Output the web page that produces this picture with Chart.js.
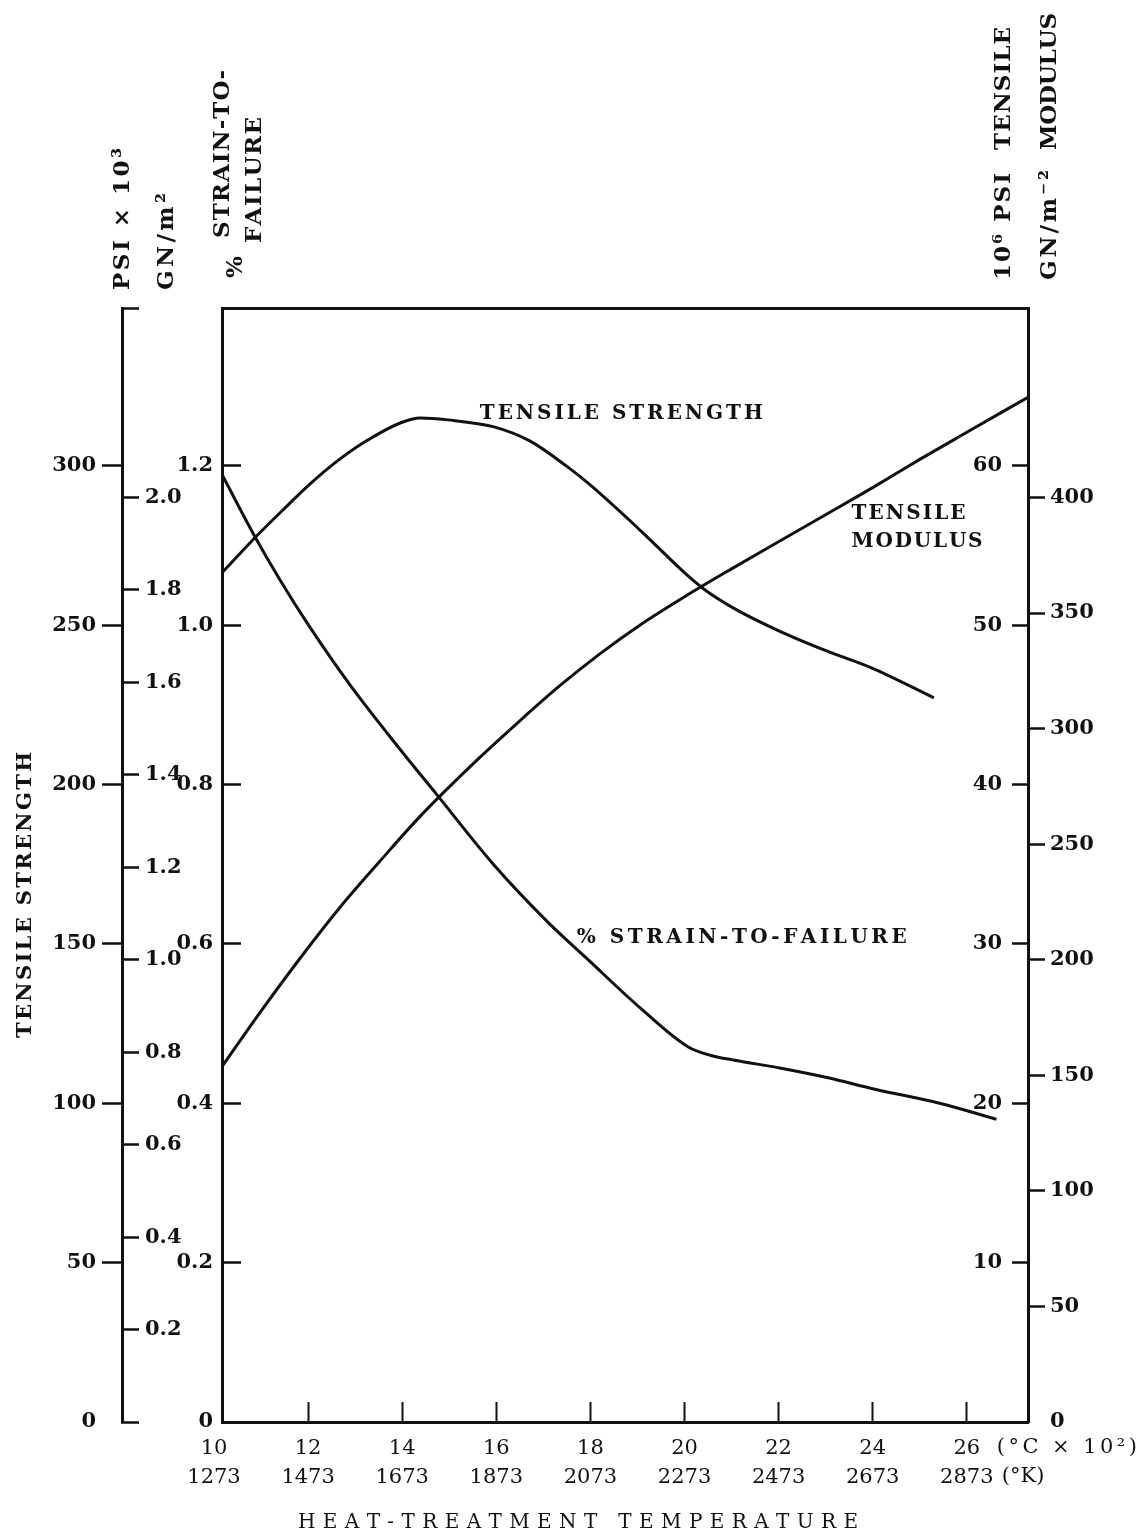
<!DOCTYPE html>
<html>
<head>
<meta charset="utf-8">
<title>Tensile properties vs heat-treatment temperature</title>
<script src="https://cdn.jsdelivr.net/npm/chart.js"></script>
<style>
    html, body { margin: 0; padding: 0; background: #fff; }
    canvas { display: block; }
</style>
</head>
<body>
<canvas id="myChart" width="1147" height="1538"></canvas>
<script>
// heat-treatment temperature: deg C x 10^2 and the matching deg K
const tempC = [10, 12, 14, 16, 18, 20, 22, 24, 26];
const tempK = [1273, 1473, 1673, 1873, 2073, 2273, 2473, 2673, 2873];

// tensile strength, PSI x 10^3
const strengthTemp = [10.17, 10.87, 11.47, 12.02, 12.57, 13.14, 13.97, 14.38, 14.97, 15.95, 16.71, 17.5, 17.97, 19.07, 20.07, 20.43, 21.07, 22.05, 23.02, 24.02, 25.3];
const strengthPsi = [266.4, 277.4, 286.2, 294.0, 300.9, 306.9, 313.5, 315.0, 314.4, 312.2, 307.8, 299.8, 294.3, 279.6, 265.5, 261.1, 255.1, 247.9, 241.9, 236.3, 227.2];

// % strain-to-failure
const strainTemp = [10.17, 10.87, 11.4, 12.02, 12.89, 13.97, 14.74, 15.95, 17.1, 17.99, 19.07, 20.07, 20.56, 21.07, 22.05, 23.05, 24.02, 25.42, 26.63];
const strainPct = [1.189, 1.111, 1.057, 0.999, 0.925, 0.843, 0.787, 0.699, 0.627, 0.578, 0.519, 0.471, 0.460, 0.454, 0.444, 0.432, 0.418, 0.400, 0.380];

// tensile modulus, 10^6 PSI
const modulusTemp = [10.17, 10.98, 11.83, 12.68, 13.53, 14.38, 15.65, 16.5, 17.35, 18.2, 19.05, 20.01, 20.98, 21.98, 22.98, 23.98, 25.0, 26.0, 27.3];
const modulusMsi = [22.3, 25.7, 29.1, 32.3, 35.2, 38.0, 41.7, 44.0, 46.2, 48.2, 50.0, 51.8, 53.5, 55.2, 56.9, 58.6, 60.4, 62.1, 64.3];

// tick labels of the five vertical scales
const psiTicks = [0, 50, 100, 150, 200, 250, 300];
const gnTicks = [0.2, 0.4, 0.6, 0.8, 1.0, 1.2, 1.4, 1.6, 1.8, 2.0];
const strainTicks = [0, 0.2, 0.4, 0.6, 0.8, 1.0, 1.2];
const msiTicks = [10, 20, 30, 40, 50, 60];
const gpaTicks = [0, 50, 100, 150, 200, 250, 300, 350, 400];

// extent of the frame and the unit conversions tying the scales together
const TEMP_MIN = 10.17;
const TEMP_MAX = 27.3;
const PSI_MAX = 349.5;          // ksi at the top of the frame
const KSI_TO_GPA = 0.006895;
const KSI_PER_STRAIN = 250;     // 1.2 % sits level with 300 ksi
const KSI_PER_MSI = 5;          // 60 Msi sits level with 300 ksi
const MSI_TO_GPA = 6.895;

const black = '#111';
const clear = 'rgba(0,0,0,0)';
const serif = 'DejaVu Serif';
const tickFont = { family: serif, size: 21, weight: 'bold' };

Chart.defaults.font.family = serif;
Chart.defaults.color = black;

const fixedWidth = w => s => { s.width = w; };
const setTicks = values => s => { s.ticks = values.map(v => ({ value: v })); };
const hideZeroTick = ctx => (ctx.tick && ctx.tick.value === 0) ? clear : black;
const toPoints = (xs, ys) => xs.map((x, i) => ({ x, y: ys[i] }));

function lineSet(label, xs, ys, axis) {
    return {
        label,
        data: toPoints(xs, ys),
        yAxisID: axis,
        borderColor: black,
        borderWidth: 3,
        pointRadius: 0,
        fill: false,
        cubicInterpolationMode: 'monotone'
    };
}

// text with letters spread to a given length, optionally rotated to read bottom-up
function spacedText(ctx, text, x, y, font, length, rotated) {
    ctx.save();
    ctx.font = font;
    ctx.fillStyle = black;
    ctx.textAlign = 'left';
    ctx.textBaseline = 'middle';
    ctx.translate(x, y);
    if (rotated) ctx.rotate(-Math.PI / 2);
    const chars = [...text];
    const widths = chars.map(c => ctx.measureText(c).width);
    const natural = widths.reduce((a, b) => a + b, 0);
    const gap = length ? (length - natural) / Math.max(chars.length - 1, 1) : 0;
    let cx = 0;
    chars.forEach((c, i) => {
        ctx.fillText(c, cx, 0);
        cx += widths[i] + gap;
    });
    ctx.restore();
}

const captions = {
    id: 'captions',
    afterDraw(chart) {
        const { ctx, scales } = chart;
        const head = `bold 23px "${serif}"`;
        const bold = `bold 20px "${serif}"`;
        const plain = `20px "${serif}"`;

        // headers above the vertical scales
        spacedText(ctx, 'PSI × 10³', 123, 290, head, 142, true);
        spacedText(ctx, 'GN/m²', 167, 290, head, 97, true);
        spacedText(ctx, '%', 236, 278, head, 0, true);
        spacedText(ctx, 'STRAIN-TO-', 223, 238, head, 168, true);
        spacedText(ctx, 'FAILURE', 255, 243, head, 126, true);
        spacedText(ctx, '10⁶ PSI', 1004, 280, head, 107, true);
        spacedText(ctx, 'TENSILE', 1004, 150, head, 123, true);
        spacedText(ctx, 'GN/m⁻²', 1050, 280, head, 110, true);
        spacedText(ctx, 'MODULUS', 1050, 150, head, 137, true);

        // axis titles
        spacedText(ctx, 'TENSILE STRENGTH', 26, 1038, `bold 21px "${serif}"`, 286, true);
        spacedText(ctx, 'HEAT-TREATMENT TEMPERATURE', 298, 1523, plain, 560, false);

        // unit suffixes after the last temperature labels
        const x26 = scales.x.getPixelForValue(26);
        spacedText(ctx, '(°C × 10²)', x26 + 30, 1448, `21px "${serif}"`, 140, false);
        spacedText(ctx, '(°K)', x26 + 35, 1477, `21px "${serif}"`, 0, false);

        // curve labels
        const px = v => scales.x.getPixelForValue(v);
        spacedText(ctx, 'TENSILE STRENGTH', px(15.65), scales.psi.getPixelForValue(316.3), bold, 283, false);
        spacedText(ctx, 'TENSILE', px(23.55), scales.msi.getPixelForValue(57.0), bold, 114, false);
        spacedText(ctx, 'MODULUS', px(23.55), scales.msi.getPixelForValue(55.2), bold, 131, false);
        spacedText(ctx, '% STRAIN-TO-FAILURE', px(17.71), scales.strain.getPixelForValue(0.6075), bold, 330, false);
    }
};

const ctx = document.getElementById('myChart');

new Chart(ctx, {
    type: 'line',
    data: {
        datasets: [
            lineSet('Tensile strength', strengthTemp, strengthPsi, 'psi'),
            lineSet('% Strain-to-failure', strainTemp, strainPct, 'strain'),
            lineSet('Tensile modulus', modulusTemp, modulusMsi, 'msi')
        ]
    },
    options: {
        responsive: false,
        animation: false,
        layout: { padding: { top: 308, left: 0, right: 0, bottom: 0 } },
        plugins: {
            legend: { display: false },
            tooltip: { enabled: false }
        },
        scales: {
            x: {
                type: 'linear',
                position: 'bottom',
                min: TEMP_MIN,
                max: TEMP_MAX,
                border: { color: black, width: 3 },
                grid: {
                    drawOnChartArea: false,
                    tickLength: -20,
                    tickWidth: 2,
                    tickColor: c => (c.tick && c.tick.value < TEMP_MIN) ? clear : black
                },
                ticks: {
                    font: { family: serif, size: 21, lineHeight: 1.38 },
                    color: black,
                    padding: 32,
                    maxRotation: 0,
                    autoSkip: false,
                    callback: v => {
                        const i = tempC.indexOf(v);
                        return i < 0 ? '' : [String(tempC[i]), String(tempK[i])];
                    }
                },
                afterBuildTicks: setTicks(tempC),
                afterFit: s => { s.height = 116; }
            },
            top: {
                type: 'linear',
                position: 'top',
                min: 0,
                max: 1,
                border: { color: black, width: 3 },
                grid: { drawOnChartArea: false, drawTicks: false },
                ticks: { display: false },
                afterFit: s => { s.height = 0; }
            },
            psi: {
                type: 'linear',
                position: 'left',
                weight: 3,
                min: 0,
                max: PSI_MAX,
                border: { color: black, width: 3 },
                grid: { drawOnChartArea: false, tickLength: 20, tickWidth: 2.5, tickColor: hideZeroTick },
                ticks: { font: tickFont, color: black, padding: 6 },
                afterBuildTicks: setTicks(psiTicks),
                afterFit: fixedWidth(122)
            },
            gnLeft: {
                type: 'linear',
                position: 'left',
                weight: 2,
                min: 0,
                max: PSI_MAX * KSI_TO_GPA,
                border: { color: black, width: 3 },
                grid: { drawOnChartArea: false, tickLength: -17, tickWidth: 2.5, tickColor: black },
                ticks: {
                    font: tickFont,
                    color: black,
                    mirror: true,
                    padding: 23,
                    callback: v => gnTicks.includes(v) ? v.toFixed(1) : ''
                },
                afterBuildTicks: s => {
                    s.ticks = [0, ...gnTicks, s.max].map(v => ({ value: v }));
                },
                afterFit: fixedWidth(0)
            },
            strain: {
                type: 'linear',
                position: 'left',
                weight: 1,
                min: 0,
                max: PSI_MAX / KSI_PER_STRAIN,
                border: { color: black, width: 3 },
                grid: { drawOnChartArea: false, tickLength: -19, tickWidth: 2.5, tickColor: hideZeroTick },
                ticks: {
                    font: tickFont,
                    color: black,
                    padding: 28,
                    callback: v => v === 0 ? '0' : v.toFixed(1)
                },
                afterBuildTicks: setTicks(strainTicks),
                afterFit: fixedWidth(100)
            },
            msi: {
                type: 'linear',
                position: 'right',
                weight: 1,
                min: 0,
                max: PSI_MAX / KSI_PER_MSI,
                border: { color: black, width: 3 },
                grid: { drawOnChartArea: false, tickLength: -16, tickWidth: 2.5, tickColor: black },
                ticks: { font: tickFont, color: black, mirror: true, padding: -26 },
                afterBuildTicks: setTicks(msiTicks),
                afterFit: fixedWidth(0)
            },
            gnRight: {
                type: 'linear',
                position: 'right',
                weight: 2,
                min: 0,
                max: PSI_MAX / KSI_PER_MSI * MSI_TO_GPA,
                border: { color: black, width: 3 },
                grid: { drawOnChartArea: false, tickLength: 17, tickWidth: 2.5, tickColor: hideZeroTick },
                ticks: { font: tickFont, color: black, padding: 5 },
                afterBuildTicks: setTicks(gpaTicks),
                afterFit: fixedWidth(119)
            }
        }
    },
    plugins: [captions]
});
</script>
</body>
</html>
